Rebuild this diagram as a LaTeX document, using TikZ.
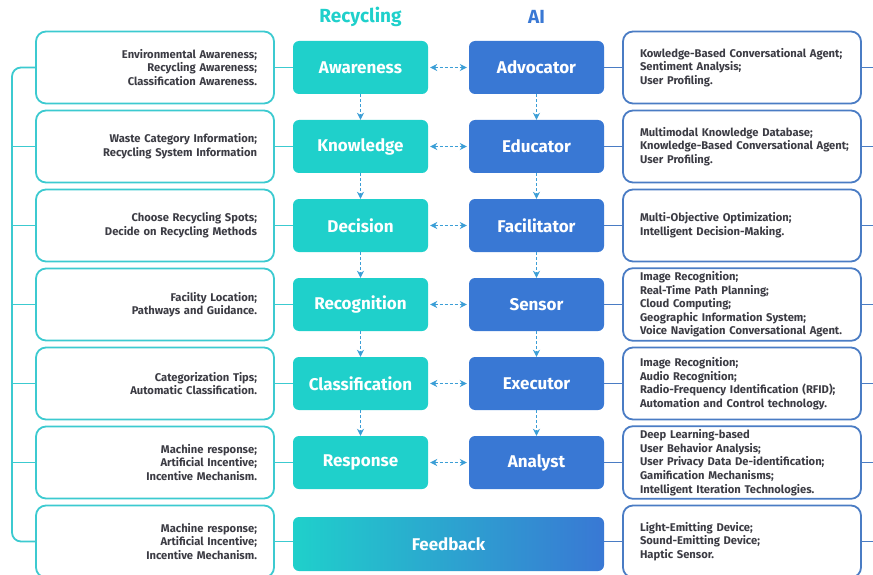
\documentclass[tikz,border=0pt]{standalone}
\usepackage{fontspec}
\setmainfont{Fira Sans}
\usetikzlibrary{arrows.meta}

\definecolor{recfill}{HTML}{1FD0CB}
\definecolor{aifill}{HTML}{3978D4}
\definecolor{recline}{HTML}{3CCAD0}
\definecolor{ailine}{HTML}{4A7CC4}
\definecolor{arrowc}{HTML}{3B9ED6}
\definecolor{txt}{HTML}{3C3C44}

\tikzset{
  outerbox/.style={draw, line width=1.8pt, rounded corners=10pt, fill=white,
    minimum width=238pt, minimum height=72pt, text width=204pt,
    inner xsep=17pt, text=txt,
    font=\fontsize{11.2}{13.6}\selectfont\bfseries},
  leftbox/.style={outerbox, draw=recline, align=right},
  rightbox/.style={outerbox, draw=ailine, align=left},
  stagebox/.style={rounded corners=6pt, minimum width=135pt, minimum height=53pt,
    text=white, font=\fontsize{17}{20}\selectfont\bfseries},
  recbox/.style={stagebox, fill=recfill},
  aibox/.style={stagebox, fill=aifill},
  reclink/.style={draw=recline, line width=1.8pt},
  ailink/.style={draw=ailine, line width=1.8pt},
  dasharrow/.style={draw=arrowc, line width=1.5pt, dash pattern=on 3pt off 2pt,
    -{Stealth[length=7pt,width=7pt]}},
  twoway/.style={dasharrow, {Stealth[length=7pt,width=7pt]}-{Stealth[length=7pt,width=7pt]},
    shorten <=2pt, shorten >=2pt},
  title/.style={font=\fontsize{19}{22}\selectfont\bfseries}
}

\begin{document}
\begin{tikzpicture}[x=1pt,y=-1pt]
\useasboundingbox (0,0) rectangle (873,575);

% column titles
\node[title, text=recfill] (tRec) at (360.5,17) {Recycling};
\node[title, text=aifill] (tAI) at (536.5,17) {AI};

% left description boxes
\node[leftbox] (L1) at (155,67.5) {Environmental Awareness;\\Recycling Awareness;\\Classification Awareness.};
\node[leftbox] (L2) at (155,146.5) {Waste Category Information;\\Recycling System Information};
\node[leftbox] (L3) at (155,225.5) {Choose Recycling Spots;\\Decide on Recycling Methods};
\node[leftbox] (L4) at (155,304.5) {Facility Location;\\Pathways and Guidance.};
\node[leftbox] (L5) at (155,383.5) {Categorization Tips;\\Automatic Classification.};
\node[leftbox] (L6) at (155,462.5) {Machine response;\\Artificial Incentive;\\Incentive Mechanism.};
\node[leftbox] (L7) at (155,541.5) {Machine response;\\Artificial Incentive;\\Incentive Mechanism.};

% recycling stages
\node[recbox] (C1) at (360.5,67.5) {Awareness};
\node[recbox] (C2) at (360.5,146.5) {Knowledge};
\node[recbox] (C3) at (360.5,225.5) {Decision};
\node[recbox] (C4) at (360.5,304.5) {Recognition};
\node[recbox] (C5) at (360.5,383.5) {Classification};
\node[recbox] (C6) at (360.5,462.5) {Response};

% AI roles
\node[aibox] (A1) at (536.5,67.5) {Advocator};
\node[aibox] (A2) at (536.5,146.5) {Educator};
\node[aibox] (A3) at (536.5,225.5) {Facilitator};
\node[aibox] (A4) at (536.5,304.5) {Sensor};
\node[aibox] (A5) at (536.5,383.5) {Executor};
\node[aibox] (A6) at (536.5,462.5) {Analyst};

% feedback bar spanning both columns
\node[stagebox, minimum width=311pt, minimum height=54pt, left color=recfill, right color=aifill]
  (FB) at (448.5,544) {Feedback};

% right description boxes
\node[rightbox] (R1) at (742,67.5) {\mbox{Kowledge-Based Conversational Agent;}\\Sentiment Analysis;\\User Profiling.};
\node[rightbox] (R2) at (742,146.5) {Multimodal Knowledge Database;\\\mbox{Knowledge-Based Conversational Agent;}\\User Profiling.};
\node[rightbox] (R3) at (742,225.5) {Multi-Objective Optimization;\\Intelligent Decision-Making.};
\node[rightbox] (R4) at (742,304.5) {Image Recognition;\\Real-Time Path Planning;\\Cloud Computing;\\Geographic Information System;\\\mbox{Voice Navigation Conversational Agent.}};
\node[rightbox] (R5) at (742,383.5) {Image Recognition;\\Audio Recognition;\\\mbox{Radio-Frequency Identification (RFID);}\\Automation and Control technology.};
\node[rightbox] (R6) at (742,462.5) {Deep Learning-based\\User Behavior Analysis;\\User Privacy Data De-identification;\\Gamification Mechanisms;\\Intelligent Iteration Technologies.};
\node[rightbox] (R7) at (742,541.5) {Light-Emitting Device;\\Sound-Emitting Device;\\Haptic Sensor.};

% bracket on the left and stubs on the right
\coordinate (brk) at (12,300);
\coordinate (redge) at (876,300);
\draw[reclink, rounded corners=9pt] (L1.west) -| (brk) |- (L7.west);
\foreach \i in {2,...,6} {
  \draw[reclink] (L\i.west) -- (L\i.west -| brk);
}
\foreach \i in {1,...,7} {
  \draw[ailink] (R\i.east) -- (R\i.east -| redge);
}

% links between description boxes and stages
\foreach \i in {1,...,6} {
  \draw[reclink] (L\i) -- (C\i);
  \draw[ailink] (A\i) -- (R\i);
  \draw[twoway] (C\i) -- (A\i);
}
\draw[reclink] (L7.east) -- (FB.west |- L7.east);
\draw[ailink] (FB.east |- R7.west) -- (R7.west);

% downward flow in each column
\foreach \i/\j in {1/2,2/3,3/4,4/5,5/6} {
  \draw[dasharrow] (C\i) -- (C\j);
  \draw[dasharrow] (A\i) -- (A\j);
}
\end{tikzpicture}
\end{document}
